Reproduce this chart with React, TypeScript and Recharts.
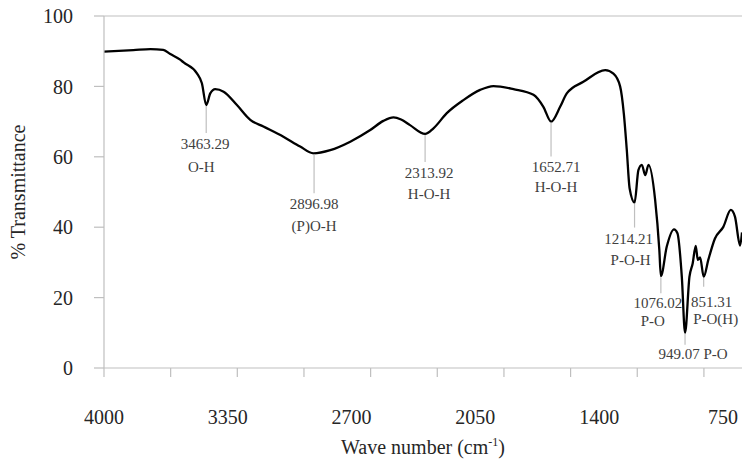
import { LineChart, Line, XAxis, YAxis, ReferenceLine, ReferenceDot } from "recharts";

const WAVENUMBER = [
  4000, 3846, 3756, 3689, 3652, 3600, 3582, 3512, 3486, 3463, 3442, 3416, 3372, 3302, 3232, 3163,
  3058, 2970, 2900, 2812, 2707, 2602, 2533, 2480, 2440, 2393, 2314, 2270, 2200, 2113, 2025, 1955,
  1850, 1745, 1693, 1652, 1605, 1570, 1483, 1368, 1325, 1290, 1270, 1255, 1240, 1214, 1194, 1176,
  1158, 1141, 1106, 1084, 1076, 1045, 1007, 989, 966, 949, 926, 909, 893, 882, 870, 851, 827, 792,
  748, 709, 687, 660, 650,
];
const TRANSMITTANCE = [
  89.9, 90.3, 90.6, 90.4, 89.2, 87.6, 86.8, 83.7, 80.9, 74.7, 78.0, 79.2, 78.5, 74.7, 70.5, 68.6,
  65.7, 62.9, 61.0, 61.9, 64.3, 67.6, 70.2, 71.2, 70.6, 69.0, 66.5, 68.1, 72.4, 76.1, 79.0, 80.1,
  79.2, 77.6, 74.2, 70.0, 74.2, 78.0, 81.3, 84.6, 83.6, 80.0, 72.0, 62.0, 51.0, 47.0, 56.2, 57.7,
  54.8, 57.7, 47.7, 33.5, 26.1, 34.5, 39.4, 38.3, 25.9, 10.0, 25.9, 29.7, 34.7, 30.7, 31.4, 25.9,
  30.7, 36.8, 40.1, 44.9, 43.0, 34.8, 38.5,
];

const Y_TICKS = [0, 20, 40, 60, 80, 100];
const X_TICK_MARKS = [4000, 3650, 3300, 2950, 2600, 2250, 1900, 1550, 1200, 850];
const X_TICK_LABELS = [4000, 3350, 2700, 2050, 1400, 750];

const PEAK_WN = [3463.29, 2896.98, 2313.92, 1652.71, 1214.21, 1076.02, 949.07, 851.31];
const PEAK_T = [74.7, 61.0, 66.5, 70.0, 47.0, 26.1, 10.0, 25.9];
const PEAK_GROUP = ["O-H", "(P)O-H", "H-O-H", "H-O-H", "P-O-H", "P-O", "P-O", "P-O(H)"];

// leader length and text offsets (px) for each peak label
const LABEL_LAYOUT = [
  { len: 28, dx1: -1, dy1: 39, dx2: -5, dy2: 62 },
  { len: 40, dx1: 0, dy1: 51, dx2: 0, dy2: 73 },
  { len: 28, dx1: 4, dy1: 39, dx2: 4, dy2: 60 },
  { len: 35, dx1: 5, dy1: 45, dx2: 5, dy2: 65 },
  { len: 25, dx1: -6, dy1: 36, dx2: -4, dy2: 57 },
  { len: 17, dx1: -3, dy1: 27, dx2: -8, dy2: 45 },
  { len: 12, dx1: 8, dy1: 21, dx2: 0, dy2: 0, inline: true },
  { len: 10, dx1: 8, dy1: 25, dx2: 12, dy2: 42 },
];

const FONT = '"Liberation Serif", "Times New Roman", serif';
const AXIS_GRAY = "#bfbfbf";
const TEXT = "#262626";
const NOTE = "#404040";

const data = WAVENUMBER.map((wn, i) => ({ wn, t: TRANSMITTANCE[i] }));

function PeakNote({ cx, cy, idx }: { cx?: number; cy?: number; idx: number }) {
  if (cx == null || cy == null) return null;
  const l = LABEL_LAYOUT[idx];
  const num = PEAK_WN[idx].toFixed(2);
  return (
    <g fontFamily={FONT} fontSize={15} fill={NOTE}>
      <line x1={cx} y1={cy + 1} x2={cx} y2={cy + l.len} stroke={AXIS_GRAY} strokeWidth={1.2} />
      {l.inline ? (
        <text x={cx + l.dx1} y={cy + l.dy1} textAnchor="middle" dominantBaseline="central">
          {num} {PEAK_GROUP[idx]}
        </text>
      ) : (
        <>
          <text x={cx + l.dx1} y={cy + l.dy1} textAnchor="middle" dominantBaseline="central">
            {num}
          </text>
          <text x={cx + l.dx2} y={cy + l.dy2} textAnchor="middle" dominantBaseline="central">
            {PEAK_GROUP[idx]}
          </text>
        </>
      )}
    </g>
  );
}

export default function App() {
  return (
    <div style={{ position: "relative", width: 744, height: 461, background: "#fff" }}>
      <style>{"body{margin:0}"}</style>
      <LineChart width={744} height={461} data={data} margin={{ top: 16, right: 2, bottom: 0, left: 0 }}>
        <XAxis
          dataKey="wn"
          type="number"
          domain={[650, 4000]}
          reversed
          allowDataOverflow
          ticks={X_TICK_MARKS}
          interval={0}
          height={10}
          tickSize={9}
          tickFormatter={() => ""}
          axisLine={{ stroke: AXIS_GRAY, strokeWidth: 1.2 }}
          tickLine={{ stroke: AXIS_GRAY, strokeWidth: 1.2 }}
        />
        <XAxis
          xAxisId="lbl"
          dataKey="wn"
          type="number"
          domain={[650, 4000]}
          reversed
          allowDataOverflow
          ticks={X_TICK_LABELS}
          interval={0}
          height={83}
          tickSize={0}
          tickMargin={32}
          axisLine={false}
          tickLine={false}
          tick={{ fill: TEXT, fontSize: 20, fontFamily: FONT }}
        />
        <YAxis
          type="number"
          domain={[0, 100]}
          ticks={Y_TICKS}
          interval={0}
          width={104}
          tickSize={10}
          tickMargin={21}
          axisLine={{ stroke: AXIS_GRAY, strokeWidth: 1.2 }}
          tickLine={{ stroke: AXIS_GRAY, strokeWidth: 1.2 }}
          tick={{ fill: TEXT, fontSize: 20, fontFamily: FONT }}
        />
        <ReferenceLine y={100} stroke={AXIS_GRAY} strokeWidth={1.2} />
        <Line
          type="monotone"
          dataKey="t"
          stroke="#000"
          strokeWidth={2.3}
          dot={false}
          activeDot={false}
          isAnimationActive={false}
        />
        {PEAK_WN.map((wn, i) => (
          <ReferenceDot
            key={wn}
            x={wn}
            y={PEAK_T[i]}
            r={0}
            ifOverflow="visible"
            shape={(p: any) => <PeakNote cx={p.cx} cy={p.cy} idx={i} />}
          />
        ))}
      </LineChart>
      <div
        style={{
          position: "absolute",
          left: 18,
          top: 192,
          transform: "translate(-50%, -50%) rotate(-90deg)",
          whiteSpace: "nowrap",
          fontFamily: FONT,
          fontSize: 20,
          color: TEXT,
        }}
      >
        % Transmittance
      </div>
      <div
        style={{
          position: "absolute",
          left: 423,
          top: 447,
          transform: "translate(-50%, -50%)",
          whiteSpace: "nowrap",
          fontFamily: FONT,
          fontSize: 20,
          color: TEXT,
        }}
      >
        Wave number (cm<sup style={{ fontSize: 12 }}>-1</sup>)
      </div>
    </div>
  );
}
